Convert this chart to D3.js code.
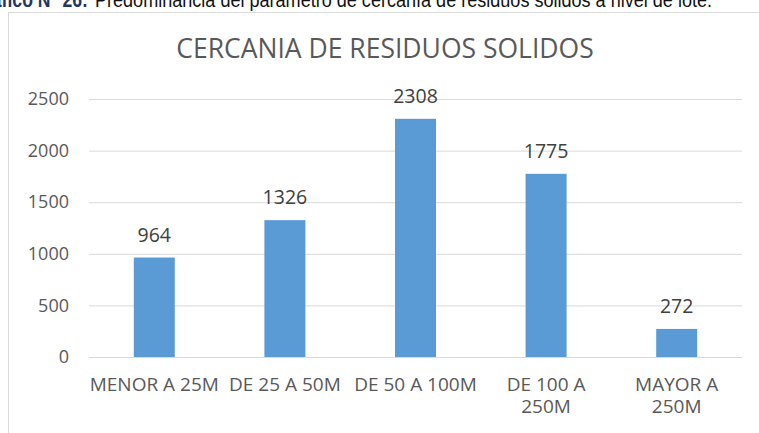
<!DOCTYPE html>
<html>
<head>
<meta charset="utf-8">
<script src="https://cdn.jsdelivr.net/npm/d3@7"></script>
<style>
  html, body { margin: 0; padding: 0; background: #fff; overflow: hidden; }
  svg { display: block; }
</style>
</head>
<body>
<svg id="chart" width="759" height="433"></svg>
<script>
// Distance to solid-waste collection points, count of lots per band
const categories = [["MENOR A 25M"], ["DE 25 A 50M"], ["DE 50 A 100M"], ["DE 100 A", "250M"], ["MAYOR A", "250M"]];
const values = [964, 1326, 2308, 1775, 272];
const yTicks = [0, 500, 1000, 1500, 2000, 2500];
const chartTitle = "CERCANIA DE RESIDUOS SOLIDOS";
const captionLead = "Gráfico N° 26:";
const captionText = "Predominancia del parámetro de cercanía de residuos sólidos a nivel de lote.";

const svg = d3.select("#chart");
const FONT = "'Open Sans', 'Noto Sans', sans-serif";
const NARROW = "'Liberation Sans', Arial, sans-serif";
const TEXT = "#595959";

// Caption strip above the chart frame (condensed sans)
svg.append("text")
  .attr("transform", "translate(88,7) scale(0.82,1)")
  .attr("text-anchor", "end")
  .attr("font-family", NARROW).attr("font-size", 21.5)
  .attr("font-weight", "bold").attr("fill", "#1F3864")
  .text(captionLead);
svg.append("text")
  .attr("x", 95).attr("y", 7)
  .attr("font-family", NARROW)
  .attr("font-size", 21).attr("fill", "#111")
  .attr("textLength", 617).attr("lengthAdjust", "spacingAndGlyphs")
  .text(captionText);

// Chart frame
svg.append("rect")
  .attr("x", 8.5).attr("y", 12.5)
  .attr("width", 800).attr("height", 500)
  .attr("fill", "#fff").attr("stroke", "#d9d9d9").attr("stroke-width", 1);

// Title
svg.append("text")
  .attr("x", 385).attr("y", 58)
  .attr("text-anchor", "middle")
  .attr("font-family", FONT).attr("font-size", 26.5)
  .attr("fill", TEXT)
  .text(chartTitle);

// Scales
const x = d3.scaleBand()
  .domain(d3.range(categories.length))
  .range([89, 742])
  .paddingInner(0.686)
  .paddingOuter(0.343);
const y = d3.scaleLinear().domain([0, 2500]).range([357, 99]);

// Gridlines + y tick labels
const yAxis = d3.axisLeft(y)
  .tickValues(yTicks)
  .tickSize(-(742 - 89))
  .tickPadding(20)
  .tickFormat(d3.format("d"));
const gy = svg.append("g").attr("transform", "translate(89,0)").call(yAxis);
gy.select(".domain").remove();
gy.selectAll(".tick line").attr("stroke", "#d9d9d9").attr("stroke-width", 1);
gy.selectAll(".tick text")
  .attr("font-family", FONT).attr("font-size", 18)
  .attr("fill", TEXT).attr("x", -20);

// Bars
svg.append("g").selectAll("rect")
  .data(values)
  .join("rect")
  .attr("x", (d, i) => x(i))
  .attr("y", d => y(d))
  .attr("width", x.bandwidth())
  .attr("height", d => y(0) - y(d))
  .attr("fill", "#5B9BD5");

// Value labels
svg.append("g").selectAll("text")
  .data(values)
  .join("text")
  .attr("x", (d, i) => x(i) + x.bandwidth() / 2)
  .attr("y", d => y(d) - 16)
  .attr("text-anchor", "middle")
  .attr("font-family", FONT).attr("font-size", 19.5)
  .attr("fill", "#404040")
  .text(d => d);

// Category labels, one text per wrapped line
const catLines = categories.flatMap((lines, i) => lines.map((ln, k) => ({ ln, i, k })));
svg.append("g").selectAll("text")
  .data(catLines)
  .join("text")
  .attr("x", d => x(d.i) + x.bandwidth() / 2)
  .attr("y", d => 391 + d.k * 22)
  .attr("text-anchor", "middle")
  .attr("font-family", FONT).attr("font-size", 19)
  .attr("fill", TEXT)
  .text(d => d.ln);
</script>
</body>
</html>
